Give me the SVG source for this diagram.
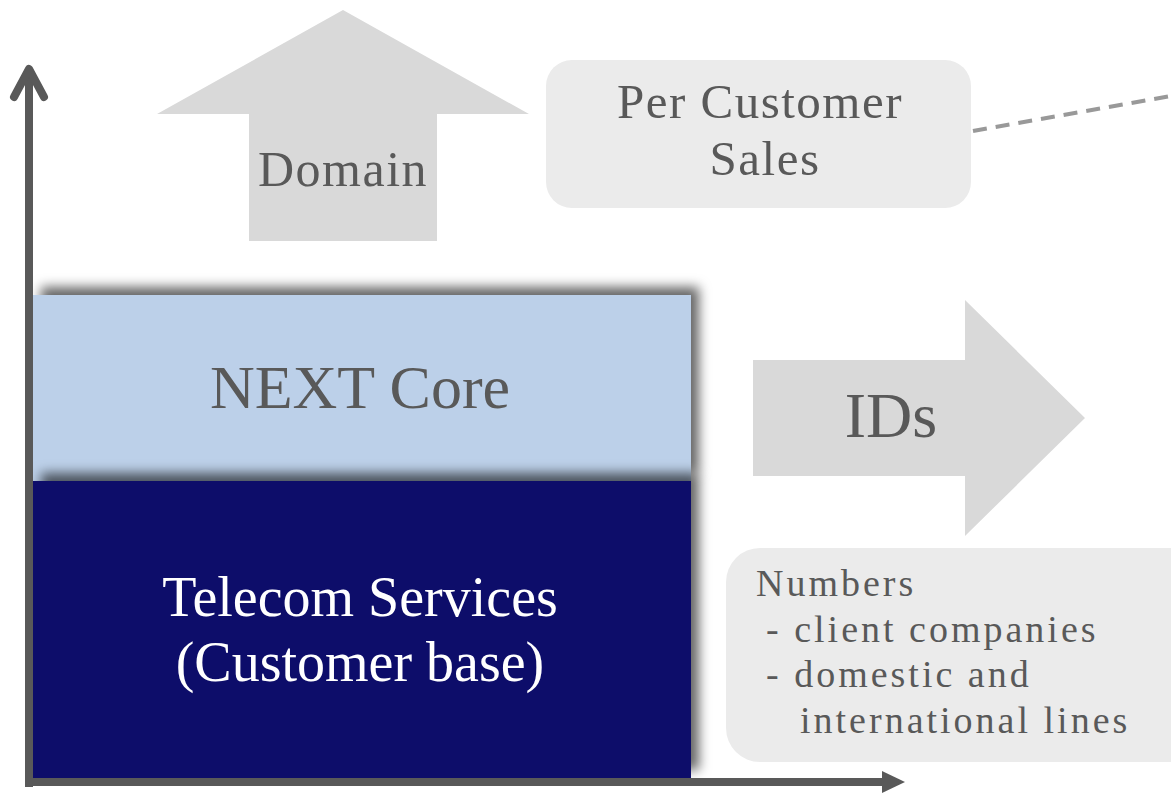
<svg xmlns="http://www.w3.org/2000/svg" width="1171" height="794" viewBox="0 0 1171 794">
  <style>
    .t { font-family: "Liberation Serif", "Times New Roman", serif; fill: #595959; }
    .big { font-size: 62px; text-anchor: middle; }
    .lbl { font-size: 49px; text-anchor: middle; letter-spacing: 1.5px; }
    .note { font-size: 38px; letter-spacing: 3px; }
    .white { fill: #ffffff; font-size: 56px; text-anchor: middle; }
    .axis { stroke: #595959; stroke-width: 8; fill: none; }
    .shape { fill: #d9d9d9; }
    .box { fill: #ebebeb; }
  </style>
  <defs>
    <filter id="shadow" x="-10%" y="-20%" width="125%" height="140%">
      <feDropShadow dx="8" dy="-8" stdDeviation="6" flood-color="#000" flood-opacity="0.6"/>
    </filter>
  </defs>

  <!-- layered blocks -->
  <g id="next-core">
    <rect x="33" y="295" width="658" height="186" fill="#bcd0e9" filter="url(#shadow)"/>
    <text class="t big" x="360" y="408">NEXT Core</text>
  </g>
  <g id="telecom">
    <rect x="33" y="481" width="658" height="297" fill="#0e0c6b" filter="url(#shadow)"/>
    <text class="t white" x="360" y="616">Telecom Services</text>
    <text class="t white" x="360" y="681">(Customer base)</text>
  </g>

  <!-- axes -->
  <g id="axes">
    <path class="axis" d="M29 787 V70" />
    <path class="axis" d="M14 97 L29 69 L44 97" stroke-linecap="round" stroke-linejoin="round"/>
    <path class="axis" d="M25 782 H886" />
    <polygon points="882,771 905,782 882,793" fill="#595959"/>
  </g>

  <!-- domain arrow -->
  <g id="domain">
    <polygon class="shape" points="343,10 529,114 437,114 437,241 249,241 249,114 157,114"/>
    <text class="t lbl" x="343" y="186" style="font-size:50px">Domain</text>
  </g>

  <!-- IDs arrow -->
  <g id="ids">
    <polygon class="shape" points="753,360 965,360 965,300 1085,418 965,536 965,476 753,476"/>
    <text class="t big" x="891" y="437" style="font-size:64px">IDs</text>
  </g>

  <!-- per customer sales -->
  <g id="sales">
    <rect class="box" x="546" y="60" width="425" height="148" rx="26"/>
    <text class="t lbl" x="760" y="118">Per Customer</text>
    <text class="t lbl" x="765" y="175">Sales</text>
  </g>

  <!-- numbers -->
  <g id="numbers">
    <rect class="box" x="726" y="548" width="480" height="214" rx="34"/>
    <text class="t note" x="756" y="596">Numbers</text>
    <text class="t note" x="766" y="642">- client companies</text>
    <text class="t note" x="766" y="687">- domestic and</text>
    <text class="t note" x="800" y="733">international lines</text>
  </g>

  <!-- connectors -->
  <g id="connectors">
    <line x1="973" y1="131" x2="1171" y2="96" stroke="#999999" stroke-width="4" stroke-dasharray="14 9"/>
  </g>
</svg>
